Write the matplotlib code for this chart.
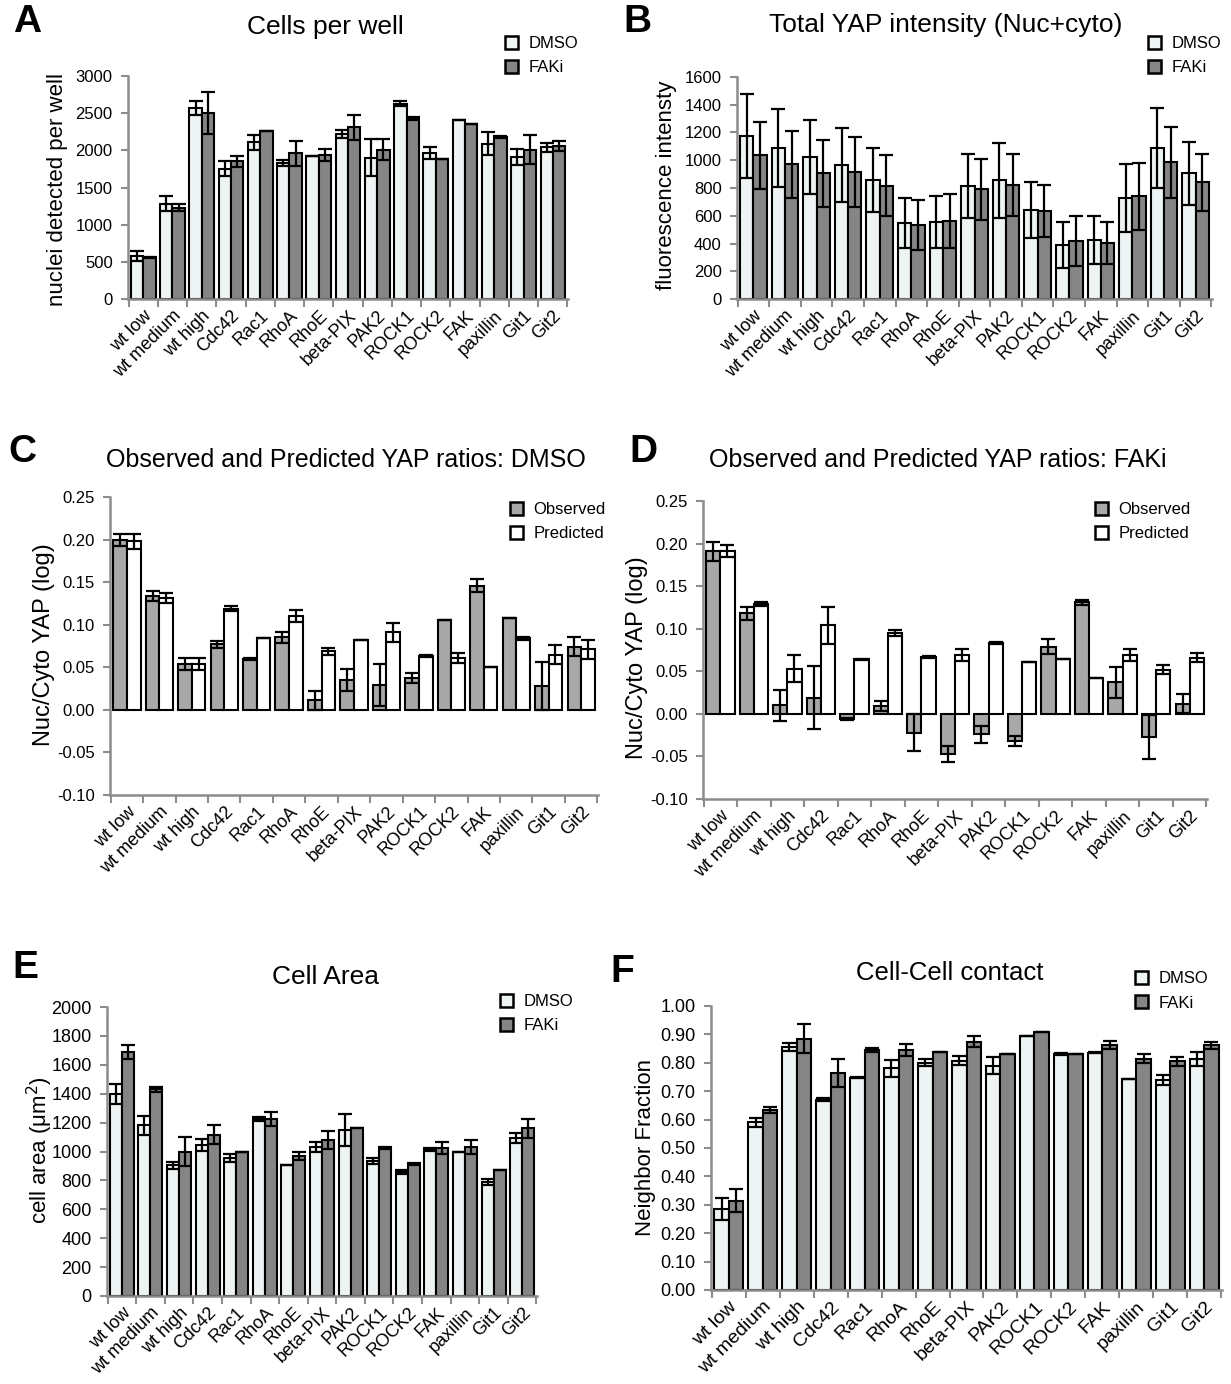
import matplotlib
matplotlib.use("Agg")
import matplotlib.pyplot as plt
import numpy as np
from matplotlib.patches import Patch

plt.rcParams['font.family'] = ['Liberation Sans', 'DejaVu Sans']

W, H = 1231, 1384
categories = ["wt low", "wt medium", "wt high", "Cdc42", "Rac1", "RhoA", "RhoE",
              "beta-PIX", "PAK2", "ROCK1", "ROCK2", "FAK", "paxillin", "Git1", "Git2"]

# Panel A: cells per well
a_dmso = [580, 1280, 2570, 1750, 2110, 1830, 1920, 2220, 1900, 2630, 1960, 2410, 2090, 1910, 2040]
a_dmso_err = [70, 100, 100, 100, 100, 40, 0, 60, 250, 40, 80, 0, 150, 110, 60]
a_faki = [560, 1230, 2500, 1850, 2260, 1960, 1940, 2310, 2010, 2430, 1890, 2350, 2180, 2010, 2060]
a_faki_err = [10, 50, 280, 80, 0, 170, 80, 170, 140, 20, 0, 0, 10, 190, 70]

# Panel B: total YAP intensity
b_dmso = [1175, 1090, 1025, 965, 855, 545, 555, 815, 855, 640, 390, 425, 725, 1090, 905]
b_dmso_err = [300, 280, 265, 265, 230, 180, 185, 230, 270, 200, 165, 170, 245, 290, 230]
b_faki = [1035, 970, 905, 915, 815, 530, 560, 790, 820, 635, 415, 405, 740, 985, 840]
b_faki_err = [240, 240, 240, 250, 220, 180, 195, 220, 225, 185, 180, 150, 240, 255, 205]

# Panel C: observed / predicted YAP ratios, DMSO
c_obs = [0.200, 0.134, 0.054, 0.077, 0.060, 0.085, 0.011, 0.035, 0.029, 0.037, 0.106, 0.146, 0.108, 0.028, 0.074]
c_obs_err = [0.007, 0.006, 0.007, 0.004, 0.001, 0.006, 0.011, 0.013, 0.025, 0.006, 0.0, 0.008, 0.0, 0.028, 0.011]
c_pred = [0.198, 0.131, 0.054, 0.119, 0.084, 0.110, 0.069, 0.082, 0.091, 0.063, 0.061, 0.050, 0.084, 0.065, 0.071]
c_pred_err = [0.009, 0.006, 0.007, 0.003, 0.0, 0.007, 0.004, 0.0, 0.011, 0.001, 0.006, 0.0, 0.002, 0.011, 0.011]

# Panel D: observed / predicted YAP ratios, FAKi
d_obs = [0.191, 0.118, 0.010, 0.019, -0.006, 0.009, -0.022, -0.047, -0.024, -0.032, 0.079, 0.131, 0.037, -0.027, 0.012]
d_obs_err = [0.011, 0.008, 0.018, 0.037, 0.001, 0.006, 0.022, 0.009, 0.010, 0.006, 0.009, 0.003, 0.018, 0.026, 0.011]
d_pred = [0.191, 0.129, 0.053, 0.104, 0.064, 0.095, 0.067, 0.069, 0.083, 0.061, 0.064, 0.042, 0.069, 0.052, 0.066]
d_pred_err = [0.007, 0.002, 0.016, 0.022, 0.001, 0.004, 0.001, 0.007, 0.001, 0.0, 0.0, 0.0, 0.007, 0.005, 0.005]

# Panel E: cell area
e_dmso = [1400, 1180, 905, 1045, 955, 1225, 905, 1030, 1150, 935, 860, 1015, 1000, 790, 1095]
e_dmso_err = [70, 65, 25, 40, 30, 15, 0, 35, 110, 20, 15, 10, 0, 20, 35]
e_faki = [1690, 1430, 1000, 1115, 1000, 1225, 970, 1080, 1160, 1025, 915, 1025, 1030, 870, 1160]
e_faki_err = [50, 15, 100, 65, 0, 50, 30, 65, 0, 5, 5, 40, 50, 0, 65]

# Panel F: cell-cell contact
f_dmso = [0.285, 0.590, 0.855, 0.670, 0.748, 0.780, 0.800, 0.808, 0.790, 0.893, 0.830, 0.836, 0.742, 0.740, 0.812]
f_dmso_err = [0.04, 0.015, 0.015, 0.005, 0.002, 0.03, 0.012, 0.015, 0.03, 0.0, 0.004, 0.003, 0.0, 0.018, 0.025]
f_faki = [0.315, 0.635, 0.885, 0.765, 0.845, 0.845, 0.838, 0.875, 0.830, 0.910, 0.830, 0.862, 0.815, 0.805, 0.862]
f_faki_err = [0.04, 0.01, 0.05, 0.05, 0.007, 0.02, 0.0, 0.018, 0.0, 0.0, 0.0, 0.015, 0.015, 0.017, 0.013]

DMSO_C = "#eef3f3"
FAKI_C = "#858585"
OBS_C = "#a8a8a8"
PRED_C = "#ffffff"
AX_C = "#8c8c8c"

fig = plt.figure(figsize=(W / 100, H / 100), dpi=100)


def add_ax(l, t, r, b):
    return fig.add_axes([l / W, 1 - b / H, (r - l) / W, (b - t) / H])


def draw(ax, v1, e1, v2, e2, c1, c2, ylim, yticks, fmt, ytick_fs, xfs=13):
    x = np.arange(len(categories))
    bw = 0.42
    kw = dict(capsize=5, error_kw=dict(elinewidth=1.6, capthick=1.6, ecolor='black'))
    ax.bar(x - bw / 2, v1, bw, yerr=e1, color=c1, edgecolor='black', linewidth=1.5, **kw)
    ax.bar(x + bw / 2, v2, bw, yerr=e2, color=c2, edgecolor='black', linewidth=1.5, **kw)
    ax.set_xlim(-0.52, len(categories) - 0.48)
    ax.set_ylim(*ylim)
    ax.set_yticks(yticks)
    ax.set_yticklabels([fmt.format(v) for v in yticks], fontsize=ytick_fs)
    ax.set_xticks(np.arange(len(categories) + 1) - 0.5)
    ax.set_xticklabels([])
    ax.set_xticks(x, minor=True)
    ax.set_xticklabels(categories, minor=True, rotation=45, ha='right',
                       rotation_mode='anchor', fontsize=xfs)
    ax.tick_params(axis='x', which='minor', length=0, pad=6)
    ax.tick_params(axis='x', which='major', length=6, width=1.5, color=AX_C, direction='out')
    ax.tick_params(axis='y', length=5, width=1.5, color=AX_C, direction='out', pad=6)
    for s in ['top', 'right']:
        ax.spines[s].set_visible(False)
    for s in ['left', 'bottom']:
        ax.spines[s].set_color(AX_C)
        ax.spines[s].set_linewidth(1.8)
    ax.set_facecolor('none')


def legend(ax, labels, colors, x, y, fs=12):
    handles = [Patch(facecolor=c, edgecolor='black', linewidth=1.8) for c in colors]
    ax.legend(handles, labels, loc='upper left', bbox_to_anchor=(x / W, 1 - y / H),
              bbox_transform=fig.transFigure, frameon=False, fontsize=fs,
              handlelength=0.8, handleheight=0.8, handletextpad=0.6, labelspacing=0.55,
              borderpad=0, borderaxespad=0)


def ftext(x, y, s, **kw):
    fig.text(x / W, 1 - y / H, s, **kw)


# A
axA = add_ax(128, 76, 568, 299)
draw(axA, a_dmso, a_dmso_err, a_faki, a_faki_err, DMSO_C, FAKI_C,
     (0, 3000), list(range(0, 3001, 500)), "{:d}", 12)
legend(axA, ["DMSO", "FAKi"], [DMSO_C, FAKI_C], 505, 36)
ftext(27, 22, "A", fontsize=28, fontweight='bold', ha='center', va='center')
ftext(325, 27, "Cells per well", fontsize=19, ha='center', va='center')
ftext(58, 190, "nuclei detected per well", fontsize=16, rotation=90, ha='center', va='center')

# B
axB = add_ax(737, 77, 1212, 299)
draw(axB, b_dmso, b_dmso_err, b_faki, b_faki_err, DMSO_C, FAKI_C,
     (0, 1600), list(range(0, 1601, 200)), "{:d}", 12)
legend(axB, ["DMSO", "FAKi"], [DMSO_C, FAKI_C], 1148, 36)
ftext(637, 22, "B", fontsize=28, fontweight='bold', ha='center', va='center')
ftext(946, 25, "Total YAP intensity (Nuc+cyto)", fontsize=19, ha='center', va='center')
ftext(666, 185, "fluorescence intensty", fontsize=16, rotation=90, ha='center', va='center')

# C
axC = add_ax(110, 497, 598, 795)
draw(axC, c_obs, c_obs_err, c_pred, c_pred_err, OBS_C, PRED_C,
     (-0.10, 0.25), [-0.10, -0.05, 0.0, 0.05, 0.10, 0.15, 0.20, 0.25], "{:.2f}", 12)
legend(axC, ["Observed", "Predicted"], [OBS_C, PRED_C], 510, 502)
ftext(22, 452, "C", fontsize=28, fontweight='bold', ha='center', va='center')
ftext(346, 460, "Observed and Predicted YAP ratios: DMSO", fontsize=18, ha='center', va='center')
ftext(44, 645, "Nuc/Cyto YAP (log)", fontsize=17, rotation=90, ha='center', va='center')

# D
axD = add_ax(703, 501, 1207, 799)
draw(axD, d_obs, d_obs_err, d_pred, d_pred_err, OBS_C, PRED_C,
     (-0.10, 0.25), [-0.10, -0.05, 0.0, 0.05, 0.10, 0.15, 0.20, 0.25], "{:.2f}", 12)
legend(axD, ["Observed", "Predicted"], [OBS_C, PRED_C], 1095, 502)
ftext(643, 452, "D", fontsize=28, fontweight='bold', ha='center', va='center')
ftext(938, 460, "Observed and Predicted YAP ratios: FAKi", fontsize=18, ha='center', va='center')
ftext(637, 658, "Nuc/Cyto YAP (log)", fontsize=17, rotation=90, ha='center', va='center')

# E
axE = add_ax(107, 1007, 537, 1296)
draw(axE, e_dmso, e_dmso_err, e_faki, e_faki_err, DMSO_C, FAKI_C,
     (0, 2000), list(range(0, 2001, 200)), "{:d}", 13)
legend(axE, ["DMSO", "FAKi"], [DMSO_C, FAKI_C], 500, 994)
ftext(25, 968, "E", fontsize=28, fontweight='bold', ha='center', va='center')
ftext(325, 977, "Cell Area", fontsize=19, ha='center', va='center')
ftext(40, 1150, "cell area (\u03bcm$^2$)", fontsize=16, rotation=90, ha='center', va='center')

# F
axF = add_ax(711, 1006, 1222, 1290)
draw(axF, f_dmso, f_dmso_err, f_faki, f_faki_err, DMSO_C, FAKI_C,
     (0, 1.0), [round(0.1 * i, 2) for i in range(11)], "{:.2f}", 13, xfs=14)
legend(axF, ["DMSO", "FAKi"], [DMSO_C, FAKI_C], 1135, 971)
ftext(622, 972, "F", fontsize=28, fontweight='bold', ha='center', va='center')
ftext(950, 973, "Cell-Cell contact", fontsize=18.5, ha='center', va='center')
ftext(645, 1148, "Neighbor Fraction", fontsize=16, rotation=90, ha='center', va='center')

fig.savefig("out.png", dpi=100, facecolor='white')
